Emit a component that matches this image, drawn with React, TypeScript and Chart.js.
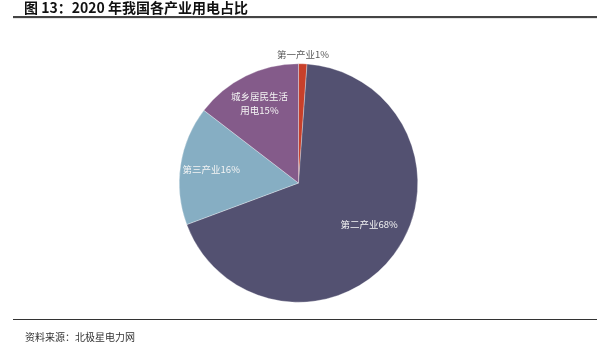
import React, { useEffect, useRef } from "react";
import { Chart, registerables } from "chart.js";

Chart.register(...registerables);

const titleText = "图 13：2020 年我国各产业用电占比";
const sourceText = "资料来源：北极星电力网";
const categories = ["第一产业", "第二产业", "第三产业", "城乡居民生活用电"];
const values = [859, 51215, 12087, 10949];
const colors = ["#C8402A", "#535171", "#86AEC3", "#845B8A"];

const FONT = '"Noto Sans CJK SC", "Noto Sans", sans-serif';

const labelPlugin = {
  id: "sliceLabels",
  afterDatasetsDraw(chart: any) {
    const ctx = chart.ctx;
    const meta = chart.getDatasetMeta(0);
    const data = chart.data.datasets[0].data as number[];
    const total = data.reduce((a, b) => a + b, 0);
    ctx.save();
    ctx.font = `9.5px ${FONT}`;
    ctx.textAlign = "center";
    ctx.textBaseline = "middle";
    meta.data.forEach((arc: any, i: number) => {
      const p = arc.getProps(["x", "y", "startAngle", "endAngle", "outerRadius"], true);
      const mid = (p.startAngle + p.endAngle) / 2;
      const frac = data[i] / total;
      const pct = Math.round(frac * 100) + "%";
      const name = categories[i];
      let lines: string[];
      if (name.length > 6) lines = [name.slice(0, 6), name.slice(6) + pct];
      else lines = [name + pct];
      let rx: number;
      let ry: number;
      if (frac < 0.05) {
        rx = ry = p.outerRadius + 9;
        ctx.fillStyle = "#595959";
      } else if (frac > 0.5) {
        rx = p.outerRadius * 0.74;
        ry = p.outerRadius * 0.58;
        ctx.fillStyle = "#F4F4F4";
      } else {
        rx = ry = p.outerRadius * 0.74;
        ctx.fillStyle = "#F4F4F4";
      }
      const cx = p.x + Math.cos(mid) * rx;
      const cy = p.y + Math.sin(mid) * ry;
      const lh = 14;
      lines.forEach((t, k) => {
        ctx.fillText(t, cx, cy + (k - (lines.length - 1) / 2) * lh);
      });
    });
    ctx.restore();
  },
};

export default function App() {
  const ref = useRef<HTMLCanvasElement>(null);
  useEffect(() => {
    document.body.style.margin = "0";
    const chart = new Chart(ref.current!, {
      type: "pie",
      data: {
        labels: categories,
        datasets: [
          {
            data: values,
            backgroundColor: colors,
            borderColor: "rgba(255,255,255,0.6)",
            borderWidth: 0.5,
          },
        ],
      },
      options: {
        animation: false,
        responsive: false,
        layout: { padding: { left: 179, right: 193, top: 63, bottom: 49 } },
        plugins: { legend: { display: false }, tooltip: { enabled: false } },
      },
      plugins: [labelPlugin],
    });
    return () => chart.destroy();
  }, []);
  return (
    <div style={{ position: "relative", width: 611, height: 352, background: "#fff", fontFamily: FONT }}>
      <canvas ref={ref} width={611} height={352} style={{ position: "absolute", left: 0, top: 0 }} />
      <div
        style={{
          position: "absolute",
          left: 24,
          top: -3,
          fontSize: 14,
          fontWeight: 700,
          color: "#111",
          whiteSpace: "nowrap",
          lineHeight: "20px",
        }}
      >
        {titleText}
      </div>
      <div style={{ position: "absolute", left: 13, top: 16, width: 584, height: 1.5, background: "#444" }} />
      <div style={{ position: "absolute", left: 13, top: 18, width: 584, height: 1, background: "#e4e4e4" }} />
      <div style={{ position: "absolute", left: 13, top: 319, width: 584, height: 1, background: "#333" }} />
      <div
        style={{
          position: "absolute",
          left: 25,
          top: 329,
          fontSize: 10,
          color: "#333",
          whiteSpace: "nowrap",
          lineHeight: "16px",
        }}
      >
        {sourceText}
      </div>
    </div>
  );
}
